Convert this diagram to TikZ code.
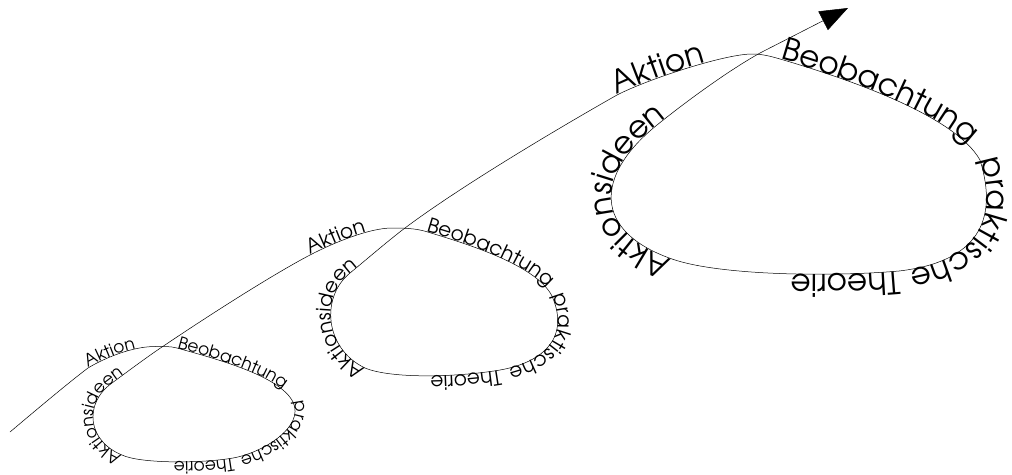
\documentclass[tikz,border=0pt]{standalone}
\usepackage[T1]{fontenc}
\usetikzlibrary{arrows.meta,decorations.text}

% 三档字号（URW Gothic，几何无衬线）
\newcommand\fklein{\fontfamily{pag}\fontsize{17}{17}\selectfont}
\newcommand\fmittel{\fontfamily{pag}\fontsize{20}{20}\selectfont}
\newcommand\fgross{\fontfamily{pag}\fontsize{31}{31}\selectfont}

\begin{document}
\begin{tikzpicture}[x=1pt, y=-1pt, line width=0.5pt, line cap=round, line join=round,
  wort/.style 2 args={postaction={decorate,
      decoration={text along path, text={|#1|#2}}}}]

  % ── 第一圈的关键点 ──
  \coordinate (S)  at (10,432);
  \coordinate (P1) at (88,368);
  \coordinate (T1) at (155,346.5);
  \coordinate (B1) at (177,348);
  \coordinate (K1) at (293,402);
  \coordinate (H1) at (233,458);
  \coordinate (I1) at (122,455);
  \coordinate (U1) at (112,383);
  \coordinate (C1) at (162,347);   % 交叉点

  % ── 第二圈 ──
  \coordinate (P2) at (310,255);
  \coordinate (T2) at (392,228);
  \coordinate (B2) at (426,231.5);
  \coordinate (K2) at (552,296);
  \coordinate (H2) at (500,370);
  \coordinate (I2) at (365,368);
  \coordinate (U2) at (350,273);
  \coordinate (C2) at (405,228);

  % ── 第三圈 + 箭头尖 ──
  \coordinate (P3) at (617,95);
  \coordinate (T3) at (752,54);
  \coordinate (B3) at (780,59);
  \coordinate (K3) at (980,160);
  \coordinate (H3) at (899,271);
  \coordinate (I3) at (672,259);
  \coordinate (U3) at (657,125);
  \coordinate (C3) at (760,53);
  \coordinate (E)  at (848,8);

  % ── 第一圈 ──
  \draw (S) .. controls (29,416) and (68,383) .. (P1);
  \draw[wort={\fklein}{Aktion}] (P1) .. controls (101,360) and (130,346.5) .. (T1)
        .. controls (162,346.5) and (170.3,346.1) .. (B1);
  \draw[wort={\fklein}{Beobachtung}] (B1) .. controls (215.4,358.8) and (279.5,375.3) .. (K1);
  \draw[wort={\fklein}{praktische}] (K1) .. controls (305,427) and (262.4,452.9) .. (H1);
  \draw[wort={\fklein}{Theorie}] (H1) .. controls (200.7,463.6) and (140,463.6) .. (I1);
  \draw[wort={\fklein}{Aktionsideen}] (I1) .. controls (87,440.8) and (83.6,403.3) .. (U1)
        .. controls (127,372) and (147,357) .. (C1);

  % ── 第二圈 ──
  \draw (C1) .. controls (203.5,319) and (270,276) .. (P2);
  \draw[wort={\fmittel}{Aktion}] (P2) .. controls (335,242) and (370,228) .. (T2)
        .. controls (403,228) and (415.4,228.3) .. (B2);
  \draw[wort={\fmittel}{Beobachtung}] (B2) .. controls (469,244.5) and (536,265) .. (K2);
  \draw[wort={\fmittel}{praktische}] (K2) .. controls (571.2,340.2) and (539.4,363.2) .. (H2);
  \draw[wort={\fmittel}{Theorie}] (H2) .. controls (460.6,376.8) and (392.6,379.4) .. (I2);
  \draw[wort={\fmittel}{Aktionsideen}] (I2) .. controls (325,349) and (320,297.5) .. (U2)
        .. controls (365.4,260.4) and (389,240) .. (C2);

  % ── 第三圈 ──
  \draw (C2) .. controls (461,186) and (560.5,127) .. (P3);
  \draw[wort={\fgross}{Aktion}] (P3) .. controls (648,79) and (725,54) .. (T3)
        .. controls (762,54) and (770.4,56.2) .. (B3);
  \draw[wort={\fgross}{Beobachtung}] (B3) .. controls (852,80) and (955,116) .. (K3);
  \draw[wort={\fgross}{praktische}] (K3) .. controls (999,221) and (977,262) .. (H3);
  \draw[wort={\fgross}{Theorie}] (H3) .. controls (831,277) and (719,275.5) .. (I3);
  \draw[wort={\fgross}{Aktionsideen}] (I3) .. controls (592,231) and (595,175) .. (U3)
        .. controls (688,100) and (729.5,70) .. (C3);

  % 出口箭头
  \draw[-{Triangle[length=28pt,width=21pt]}] (C3) -- (E);

  \pgfresetboundingbox
  \path[use as bounding box] (0,0) rectangle (1012,474);
\end{tikzpicture}
\end{document}
